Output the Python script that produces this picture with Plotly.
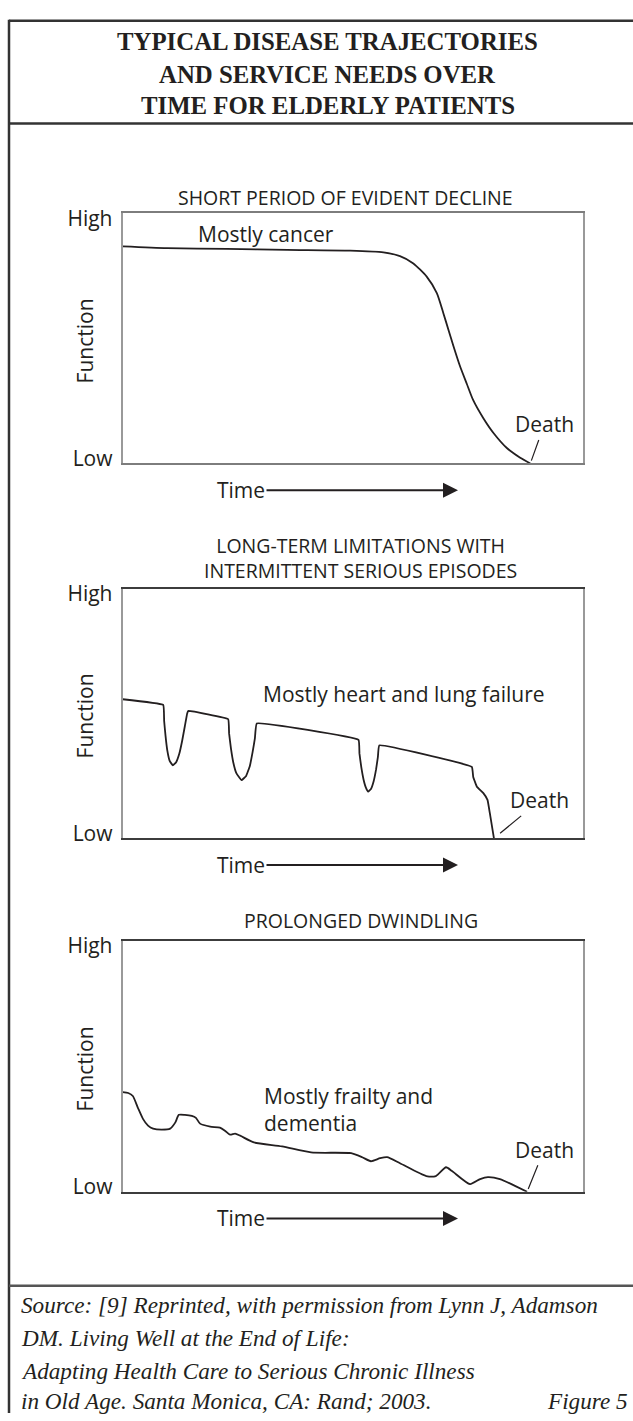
import plotly.graph_objects as go

W, H = 633, 1421

# ---------------- data (Time 0-100, Function 0=Low .. 100=High) ----------------
cancer_time = [0, 9.6, 22.6, 35.7, 49.4, 56.6, 60.2, 63.1, 66.0, 68.2, 69.6, 70.7,
               71.8, 73.2, 74.7, 76.1, 78.3, 80.5, 83.4, 86.3, 88.5]
cancer_func = [86.8, 86.1, 85.8, 85.4, 85.1, 84.4, 82.9, 80.0, 74.7, 68.1, 60.2, 53.6,
               47.0, 39.1, 31.9, 25.3, 18.1, 12.2, 6.2, 2.3, 0]

organ_time = [0, 8.8, 9.0, 9.3, 9.7, 10.2, 10.9, 11.6, 12.3, 12.9, 13.5, 14.0, 14.2,
              22.9, 23.1, 23.5, 24.0, 24.7, 25.8, 26.8, 27.6, 28.2, 28.7, 29.1,
              51.2, 51.4, 51.8, 52.3, 52.8, 53.3, 53.9, 54.5, 55.0, 55.4, 55.7,
              75.8, 76.1, 76.9, 78.3, 79.2, 79.7, 80.6]
organ_func = [55.7, 53.4, 47.0, 41.0, 35.0, 31.0, 29.2, 30.5, 34.0, 39.0, 45.0, 50.0, 51.0,
              47.7, 42.0, 36.0, 30.5, 26.0, 23.3, 25.0, 29.0, 34.5, 40.0, 46.0,
              39.4, 34.0, 28.5, 23.5, 20.3, 18.7, 19.8, 23.0, 27.5, 32.5, 37.2,
              28.6, 24.6, 20.7, 18.1, 15.4, 10.2, 0]

frail_time = [0, 1.2, 2.2, 3.3, 4.4, 5.5, 6.6, 8.5, 10.3, 11.4, 12.2, 13.5, 15.0,
              15.9, 16.8, 19.0, 21.1, 22.2, 23.3, 24.4, 25.5, 28.5, 34.6, 40.9,
              49.6, 52.0, 53.9, 55.9, 57.4, 60.2, 65.9, 68.0, 70.2, 71.5, 75.4,
              77.6, 79.3, 81.9, 87.8]
frail_func = [39.8, 39.4, 38.2, 33.5, 29.1, 26.4, 25.2, 24.8, 25.2, 27.6, 30.7, 30.7,
              30.3, 29.5, 27.2, 26.0, 25.6, 24.4, 22.8, 23.2, 22.4, 19.7, 18.1, 15.7,
              15.4, 13.8, 12.2, 13.4, 13.8, 11.4, 6.3, 6.3, 9.8, 8.3, 3.1,
              5.1, 5.9, 5.1, 0]

level_vals = [2, 98]
level_text = ["Low", "High"]

title_lines = ["TYPICAL DISEASE TRAJECTORIES", "AND SERVICE NEEDS OVER",
               "TIME FOR ELDERLY PATIENTS"]
panel_titles = ["SHORT PERIOD OF EVIDENT DECLINE",
                "LONG-TERM LIMITATIONS WITH<br>INTERMITTENT SERIOUS EPISODES",
                "PROLONGED DWINDLING"]
curve_labels = ["Mostly cancer", "Mostly heart and lung failure",
                "Mostly frailty and<br>dementia"]
footer_lines = ["Source: [9] Reprinted, with permission from Lynn J, Adamson",
                "DM. Living Well at the End of Life:",
                "Adapting Health Care to Serious Chronic Illness",
                "in Old Age. Santa Monica, CA: Rand; 2003."]
figure_label = "Figure 5"

# ---------------- style ----------------
INK = "#231f20"
SANS = "Open Sans, Noto Sans, sans-serif"
SERIF = "Liberation Serif, Times New Roman, serif"


def fx(p):
    return p / W


def fy(p):
    return 1 - p / H


# panel boxes in pixels: (top, bottom)
boxes = [(206, 459.3), (586, 839), (943, 1197)]
XL, XR = 122.7, 583.3

fig = go.Figure()
series = [(cancer_time, cancer_func, "spline", 0.6),
          (organ_time, organ_func, "spline", 0.25),
          (frail_time, frail_func, "spline", 0.6)]
for i, (xs, ys, shape, sm) in enumerate(series):
    sfx = "" if i == 0 else str(i + 1)
    fig.add_trace(go.Scatter(x=xs, y=ys, mode="lines", xaxis="x" + sfx, yaxis="y" + sfx,
                             line=dict(color=INK, width=1.8, shape=shape, smoothing=sm),
                             hoverinfo="skip", showlegend=False))

layout = dict(width=W, height=H, margin=dict(l=0, r=0, t=0, b=0),
              paper_bgcolor="white", plot_bgcolor="white", showlegend=False)

xlinecols = ["#7d7d7d", "#3c3c3c", "#3c3c3c"]
for i, (top, bot) in enumerate(boxes):
    sfx = "" if i == 0 else str(i + 1)
    layout["xaxis" + sfx] = dict(domain=[fx(XL), fx(XR)], range=[0, 100], anchor="y" + sfx,
                                 showgrid=False, zeroline=False, showticklabels=False,
                                 ticks="", showline=True, mirror=True,
                                 linecolor=xlinecols[i], linewidth=2, fixedrange=True)
    layout["yaxis" + sfx] = dict(domain=[fy(bot), fy(top)], range=[0, 100], anchor="x" + sfx,
                                 showgrid=False, zeroline=False, ticks="",
                                 tickvals=level_vals, ticktext=level_text,
                                 tickfont=dict(family=SANS, size=21, color=INK),
                                 ticklabelstandoff=4,
                                 showline=True, mirror=True, linecolor="#999999",
                                 linewidth=2, fixedrange=True)

annotations = []
# main title
for y, t in zip([32, 65, 97], title_lines):
    annotations.append(dict(text=t, x=fx(328), y=fy(y), xref="paper", yref="paper",
                            xanchor="center", yanchor="middle", showarrow=False,
                            font=dict(family=SERIF, size=24.8, color=INK, weight="bold")))
# panel titles
pt_pos = [(345, 190), (360, 555), (361, 922)]
for (x, y), t in zip(pt_pos, panel_titles):
    annotations.append(dict(text=t, x=fx(x), y=fy(y), xref="paper", yref="paper",
                            xanchor="center", yanchor="middle", showarrow=False,
                            font=dict(family=SANS, size=19.5, color=INK)))
# curve labels
cl_pos = [(196, 227), (261, 693), (262, 1114)]
for (x, y), t in zip(cl_pos, curve_labels):
    annotations.append(dict(text=t, x=fx(x), y=fy(y), xref="paper", yref="paper",
                            xanchor="left", yanchor="middle", align="left",
                            showarrow=False,
                            font=dict(family=SANS, size=21, color=INK)))
# Function labels + Time arrows + Death leaders
death_off = [(14, -39), (46, -38), (17, -42)]
death_stand = [3, 8, 3]
for i, (top, bot) in enumerate(boxes):
    sfx = "" if i == 0 else str(i + 1)
    annotations.append(dict(text="Function", x=fx(85), y=fy((top + bot) / 2 + 3),
                            xref="paper", yref="paper", textangle=-90,
                            xanchor="center", yanchor="middle", showarrow=False,
                            font=dict(family=SANS, size=21, color=INK)))
    annotations.append(dict(text="Time", x=fx(458), y=fy(bot + 27), xref="paper",
                            yref="paper", ax=-217, ay=0, showarrow=True,
                            arrowhead=2, arrowsize=1.5, arrowwidth=2, arrowcolor=INK,
                            font=dict(family=SANS, size=21, color=INK)))
    xs, ys, _, _ = series[i]
    annotations.append(dict(text="Death", x=xs[-1], y=ys[-1], xref="x" + sfx,
                            yref="y" + sfx, ax=death_off[i][0], ay=death_off[i][1],
                            showarrow=True, arrowhead=0, arrowwidth=1.2,
                            arrowcolor=INK, standoff=death_stand[i],
                            font=dict(family=SANS, size=21, color=INK)))
# footer
foot_y = [1312, 1345, 1378, 1409]
for y, t in zip(foot_y, footer_lines):
    annotations.append(dict(text=t, x=fx(19), y=fy(y), xref="paper", yref="paper",
                            xanchor="left", yanchor="middle", showarrow=False,
                            font=dict(family=SERIF, size=23.2, color=INK, style="italic")))
annotations.append(dict(text=figure_label, x=fx(630), y=fy(foot_y[-1]), xref="paper",
                        yref="paper", xanchor="right", yanchor="middle", showarrow=False,
                        font=dict(family=SERIF, size=23.2, color=INK, style="italic")))
layout["annotations"] = annotations

frame = dict(color="#333333", width=2.5)
layout["shapes"] = [
    dict(type="line", xref="paper", yref="paper", x0=fx(9), x1=1, y0=fy(11), y1=fy(11), line=frame),
    dict(type="line", xref="paper", yref="paper", x0=fx(9), x1=fx(9), y0=fy(10), y1=0, line=frame),
    dict(type="line", xref="paper", yref="paper", x0=fx(9), x1=1, y0=fy(115), y1=fy(115), line=frame),
    dict(type="line", xref="paper", yref="paper", x0=fx(9), x1=1, y0=fy(1292), y1=fy(1292),
         line=dict(color="#555555", width=2.5)),
]

fig.update_layout(**layout)
fig.write_html("out.html", config={"displayModeBar": False, "staticPlot": True},
               post_script="document.body.style.margin='0';"
                           "document.body.style.overflow='hidden';")
